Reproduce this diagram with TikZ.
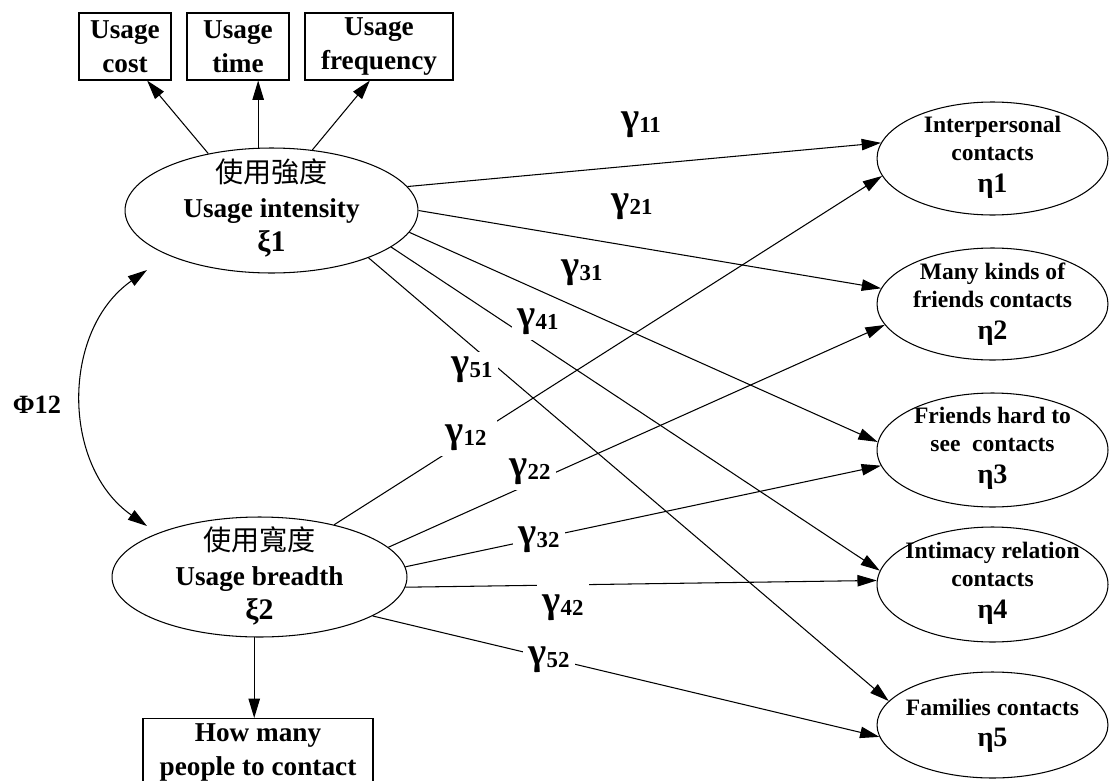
\documentclass[tikz,border=0pt]{standalone}
\usepackage{fontspec}
\setmainfont{Liberation Serif}
\newfontfamily\cjk{Noto Sans CJK TC}
\usetikzlibrary{shapes.geometric,arrows.meta,calc}

\newcommand{\gcoef}[1]{{\fontsize{22}{22}\selectfont γ}\raisebox{-1.5pt}{\fontsize{13}{13}\selectfont #1}}

\begin{document}
\begin{tikzpicture}[x=0.02cm,y=-0.02cm]
                \tikzstyle{every node}+=[inner sep=0pt]
                \tikzstyle{latent}=[draw,ellipse,line width=0.6pt]
                \tikzstyle{obs}=[draw,rectangle,line width=0.6pt,align=center,font=\fontsize{15.5}{19.5}\selectfont\bfseries]
                \tikzstyle{causal}=[line width=0.6pt,-{Triangle[length=11pt,width=6.5pt]}]
                \tikzstyle{cov}=[line width=0.6pt,{Triangle[length=11pt,width=6.5pt]}-{Triangle[length=11pt,width=6.5pt]}]
                \tikzstyle{coef}=[fill=white,inner sep=3pt,font=\bfseries]
                \tikzstyle{ltext}=[align=center,font=\fontsize{15.5}{19.8}\selectfont\bfseries]
                \tikzstyle{rtext}=[align=center,font=\fontsize{13.4}{16}\selectfont\bfseries]
                \useasboundingbox (0,0) rectangle (1109,781);
                % observed indicators
                \node[obs,minimum width=1.84cm,minimum height=1.34cm] (ucost) at (125,46.5) {Usage\\cost};
                \node[obs,minimum width=2.04cm,minimum height=1.34cm] (utime) at (238,46.5) {Usage\\time};
                \node[obs,minimum width=2.96cm,minimum height=1.34cm] (ufreq) at (379,46.5) {Usage\\frequency};
                \node[obs,minimum width=4.6cm,inner ysep=3pt,anchor=north] (howmany) at (258,718) {How many\\people to contact};
                % exogenous latent variables
                \node[latent,minimum width=5.86cm,minimum height=2.5cm] (xi1) at (271.5,210.5) {};
                \node[ltext] (xi1txt) at (271.5,208) {{\mdseries\cjk\fontsize{16}{19.8}\selectfont 使用強度}\\Usage intensity\\{\fontsize{17}{19.8}\selectfont ξ1}};
                \node[latent,minimum width=5.9cm,minimum height=2.4cm] (xi2) at (259.5,577) {};
                \node[ltext] (xi2txt) at (259.5,576) {{\mdseries\cjk\fontsize{16}{19.8}\selectfont 使用寬度}\\Usage breadth\\{\fontsize{17}{19.8}\selectfont ξ2}};
                % endogenous latent variables
                \node[latent,minimum width=4.62cm,minimum height=2.26cm] (eta1) at (992.5,158.5) {};
                \node[rtext] (eta1txt) at (992.5,157) {Interpersonal\\contacts\\[2pt]{\fontsize{16}{16}\selectfont η1}};
                \node[latent,minimum width=4.62cm,minimum height=2.24cm] (eta2) at (992.5,304) {};
                \node[rtext] (eta2txt) at (992.5,304) {Many kinds of\\friends contacts\\[2pt]{\fontsize{16}{16}\selectfont η2}};
                \node[latent,minimum width=4.62cm,minimum height=2.28cm] (eta3) at (992.5,450) {};
                \node[rtext] (eta3txt) at (992.5,448) {Friends hard to\\see\ \ contacts\\[2pt]{\fontsize{16}{16}\selectfont η3}};
                \node[latent,minimum width=4.62cm,minimum height=2.3cm] (eta4) at (992.5,584.5) {};
                \node[rtext] (eta4txt) at (992.5,583) {Intimacy relation\\contacts\\[2pt]{\fontsize{16}{16}\selectfont η4}};
                \node[latent,minimum width=4.62cm,minimum height=2.12cm] (eta5) at (992.5,725) {};
                \node[rtext] (eta5txt) at (992.5,726) {Families contacts\\[2pt]{\fontsize{16}{16}\selectfont η5}};
                % indicator arrows
                \draw[causal] (xi1.138) -- (ucost.-57);
                \draw[causal] (xi1.102) -- (xi1.102 |- utime.south);
                \draw[causal] (xi1.56) -- (ufreq.-105);
                \draw[causal] (xi2.-95) -- (xi2.-95 |- howmany.north);
                % correlation
                \coordinate (phitop) at (147,270);
                \coordinate (phibot) at (147,526);
                \draw[cov] (phibot) to[out=145,in=215,looseness=1.05] (phitop);
                \node[font=\fontsize{15}{15}\selectfont\bfseries] (phi) at (37,405) {Φ12};
                % structural paths
                \draw[causal] (xi1.10) -- (eta1.172);
                \draw[causal] (xi1.0) -- (eta2.172);
                \draw[causal] (xi1.-9) -- (eta3.176);
                \draw[causal] (xi1.-17) -- (eta4.173);
                \draw[causal] (xi1.-26) -- (eta5.167);
                \draw[causal] (xi2.35) -- (eta1.189);
                \draw[causal] (xi2.13) -- (eta2.191);
                \draw[causal] (xi2.4) -- (eta3.188);
                \draw[causal] (xi2.-4) -- (eta4.178);
                \draw[causal] (xi2.-19) -- (eta5.186);
                % coefficients
                \node[coef] (g11) at (641,125) {\gcoef{11}};
                \node[coef] (g21) at (632,207) {\gcoef{21}};
                \node[coef] (g31) at (582,273) {\gcoef{31}};
                \node[coef] (g41) at (538,322) {\gcoef{41}};
                \node[coef] (g51) at (472,370) {\gcoef{51}};
                \node[coef,inner xsep=6pt] (g12) at (466,438) {\gcoef{12}};
                \node[coef] (g22) at (530,472) {\gcoef{22}};
                \node[coef] (g32) at (539,540) {\gcoef{32}};
                \node[coef,inner ysep=9pt] (g42) at (563,608) {\gcoef{42}};
                \node[coef] (g52) at (549,660) {\gcoef{52}};
\end{tikzpicture}
\end{document}
